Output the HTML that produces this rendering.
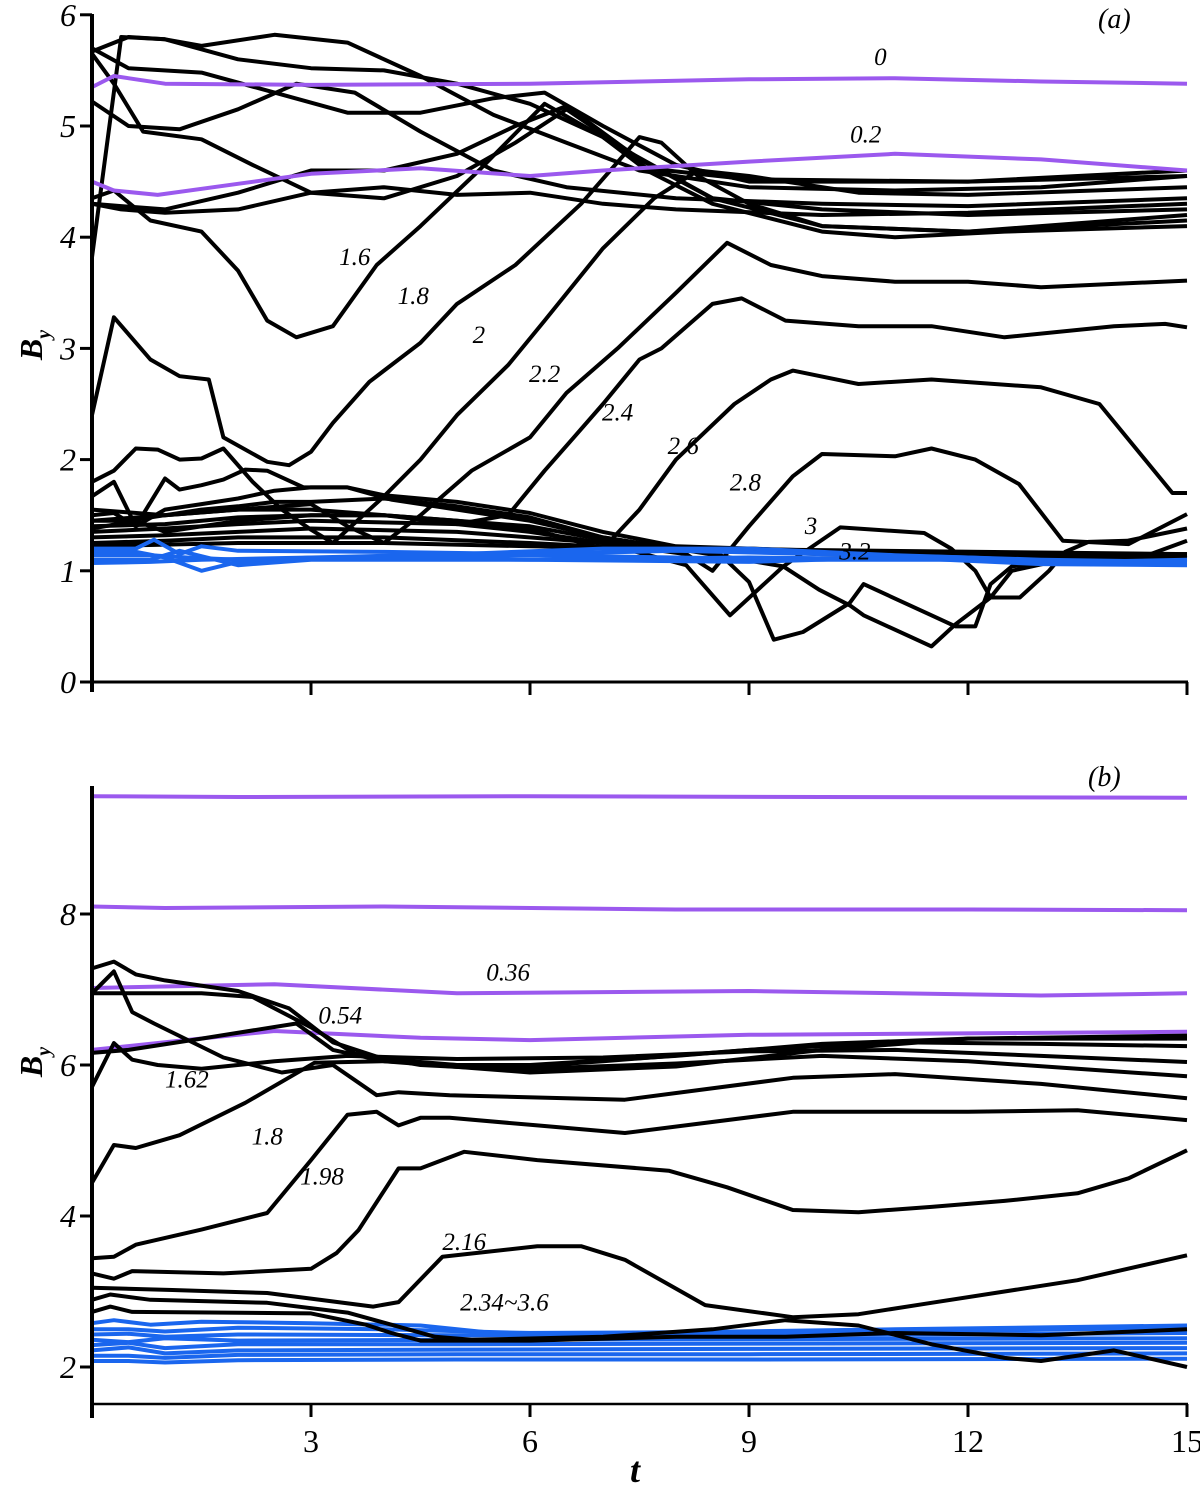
<!DOCTYPE html>
<html><head><meta charset="utf-8">
<style>
html,body{margin:0;padding:0;background:#fff;}
svg{display:block;}
text{font-family:"Liberation Serif","DejaVu Serif",serif;font-style:italic;}
</style></head>
<body>
<svg id="chart" width="1200" height="1486" viewBox="0 0 1200 1486" xmlns="http://www.w3.org/2000/svg">
<g id="panelA"></g>
<g id="panelB"></g>
</svg>
<script>
// ---------- Panel (a) data: [t, By] pairs ----------
const aPurple0 = [[0,5.35],[0.3,5.45],[1,5.38],[3,5.37],[6,5.38],[9,5.42],[11,5.43],[13,5.4],[15,5.38]];
const aPurple02 = [[0,4.5],[0.3,4.42],[0.9,4.38],[2,4.48],[3,4.57],[4.5,4.62],[6,4.55],[7,4.6],[9,4.68],[11,4.75],[13,4.7],[15,4.6]];
const aTop1 = [[0,5.67],[0.5,5.8],[1,5.78],[1.5,5.72],[2.5,5.82],[3.5,5.75],[4.5,5.45],[5.5,5.1],[6.5,4.85],[7.5,4.6],[9,4.45],[11,4.42],[13,4.45],[15,4.55]];
const aTop2 = [[0,5.7],[0.5,5.52],[1.5,5.48],[2.5,5.3],[3.5,5.12],[4.5,5.12],[5.5,5.25],[6.2,5.3],[7,5.0],[8,4.65],[9,4.5],[12,4.5],[15,4.6]];
const aTop3 = [[0,5.22],[0.5,5.0],[1.2,4.97],[2,5.15],[2.8,5.38],[3.6,5.3],[4.5,4.95],[5.5,4.6],[6.5,4.45],[8,4.35],[10,4.3],[12,4.28],[15,4.35]];
const aTop4 = [[0,3.82],[0.4,5.8],[1,5.78],[2,5.6],[3,5.52],[4,5.5],[5,5.38],[6,5.2],[7,4.9],[7.6,4.62],[9,4.52],[12,4.5],[15,4.55]];
const aTop5 = [[0,5.65],[0.3,5.38],[0.7,4.95],[1.5,4.88],[2.2,4.65],[3,4.4],[4,4.35],[5,4.55],[5.8,4.85],[6.5,5.15],[7.4,4.75],[8.5,4.35],[10,4.25],[12,4.2],[15,4.25]];
const aTop6 = [[0,4.3],[0.4,4.28],[1,4.25],[2,4.4],[3,4.6],[4,4.6],[5,4.75],[5.8,5.0],[6.5,5.18],[7.5,4.7],[8.5,4.35],[10,4.1],[12,4.05],[15,4.15]];
const aTop7 = [[0,4.3],[0.4,4.25],[1,4.22],[2,4.25],[3,4.4],[4,4.45],[5,4.38],[6,4.4],[7,4.3],[8,4.25],[10,4.2],[12,4.22],[15,4.3]];
const aL16 = [[0,4.35],[0.3,4.42],[0.8,4.15],[1.5,4.05],[2,3.7],[2.4,3.25],[2.8,3.1],[3.3,3.2],[3.9,3.75],[4.5,4.1],[5.3,4.6],[6.2,5.2],[7,4.9],[7.6,4.6],[8.5,4.3],[10,4.05],[11,4.0],[12.5,4.05],[15,4.1]];
const aL18 = [[0,2.4],[0.3,3.28],[0.8,2.9],[1.2,2.75],[1.6,2.72],[1.8,2.2],[2.4,1.98],[2.7,1.95],[3.0,2.07],[3.3,2.33],[3.8,2.7],[4.5,3.05],[5,3.4],[5.8,3.75],[6.7,4.3],[7.5,4.9],[7.8,4.85],[8.3,4.55],[9,4.3],[10,4.1],[12,4.05],[15,4.2]];
const aL20 = [[0,1.8],[0.3,1.9],[0.6,2.1],[0.9,2.09],[1.2,2.0],[1.5,2.01],[1.8,2.1],[2.2,1.8],[2.6,1.55],[3,1.37],[3.3,1.25],[4,1.67],[4.5,2.0],[5,2.4],[5.7,2.85],[6.2,3.25],[7,3.9],[7.7,4.35],[8.3,4.6],[9,4.55],[10.5,4.4],[12,4.38],[15,4.45]];
const aL22 = [[0,1.55],[1,1.5],[2,1.55],[3,1.6],[3.5,1.4],[4,1.25],[4.5,1.5],[5.2,1.9],[6,2.2],[6.5,2.6],[7.2,3.0],[8,3.5],[8.7,3.95],[9.3,3.75],[10,3.65],[11,3.6],[12,3.6],[13,3.55],[15,3.61]];
const aL24 = [[0,1.45],[1,1.5],[2,1.55],[3,1.55],[4,1.5],[5,1.42],[5.7,1.5],[6.2,1.9],[6.6,2.2],[7,2.5],[7.5,2.9],[7.8,3.0],[8.5,3.4],[8.9,3.45],[9.5,3.25],[10.5,3.2],[11.5,3.2],[12.5,3.1],[14,3.2],[14.7,3.22],[15,3.19]];
const aL26 = [[0,1.4],[1,1.42],[2,1.48],[3,1.5],[4,1.5],[5,1.45],[6,1.38],[7,1.2],[7.5,1.55],[8,2.0],[8.8,2.5],[9.3,2.72],[9.6,2.8],[10.5,2.68],[11.5,2.72],[13,2.65],[13.8,2.5],[14.3,2.1],[14.8,1.7],[15,1.7]];
const aL28 = [[0,1.35],[1,1.38],[2,1.42],[3,1.45],[5,1.42],[6,1.35],[7,1.25],[8.14,1.15],[8.5,1.0],[9,1.4],[9.6,1.85],[10,2.05],[11,2.03],[11.5,2.1],[12.1,2.0],[12.7,1.78],[13.3,1.27],[14.2,1.24],[15,1.51]];
const aL30 = [[0,1.3],[1,1.32],[2,1.35],[3,1.38],[5,1.35],[7,1.25],[8.14,1.05],[8.74,0.6],[9.47,1.04],[10.25,1.39],[11.4,1.34],[11.77,1.2],[12.1,1.0],[12.31,0.76],[12.71,0.76],[13.11,1.0],[13.33,1.17],[13.65,1.26],[14.18,1.27],[15,1.38]];
const aL32 = [[0,1.25],[1,1.27],[2,1.3],[4,1.3],[6,1.25],[7.5,1.2],[8.57,1.17],[9.0,0.9],[9.34,0.38],[9.74,0.45],[10.38,0.71],[10.57,0.88],[11.5,0.6],[11.83,0.5],[12.1,0.5],[12.31,0.88],[12.6,1.04],[13,1.07],[15,1.14]];
const aL34 = [[0,1.22],[2,1.25],[4,1.25],[6,1.22],[8,1.2],[9.47,1.04],[9.96,0.83],[10.38,0.69],[10.57,0.6],[11.5,0.32],[11.83,0.52],[12.31,0.76],[12.6,1.0],[13.3,1.1],[14.5,1.15],[15,1.27]];
const aZig = [[0,1.67],[0.3,1.8],[0.6,1.4],[1.0,1.83],[1.2,1.73],[1.5,1.77],[1.8,1.82],[2.1,1.91],[2.4,1.9],[2.9,1.75],[3.5,1.75],[4.1,1.64],[5,1.55],[6,1.45],[7,1.3],[8,1.2],[9,1.2],[11,1.15],[13,1.1],[15,1.12]];
const aFlat1 = [[0,1.5],[0.3,1.52],[0.6,1.4],[1,1.55],[1.5,1.6],[2,1.65],[2.5,1.72],[3,1.75],[3.5,1.75],[4,1.68],[5,1.62],[6,1.52],[7,1.35],[8,1.22],[10,1.18],[12,1.15],[15,1.15]];
const aFlat2 = [[0,1.45],[0.5,1.45],[1,1.5],[1.5,1.55],[2,1.58],[2.5,1.62],[3,1.62],[4,1.65],[5,1.58],[6,1.48],[7,1.3],[8,1.2],[10,1.15],[15,1.12]];
const aFlat3 = [[0,1.38],[0.6,1.45],[1,1.35],[2,1.45],[3,1.5],[4,1.5],[5,1.45],[6,1.4],[7,1.28],[8,1.2],[15,1.15]];
const aBlue1 = [[0,1.2],[0.6,1.2],[0.85,1.28],[1.2,1.15],[1.5,1.22],[2,1.18],[4,1.17],[6,1.15],[8,1.18],[10,1.15],[12,1.12],[13.5,1.08],[15,1.1]];
const aBlue2 = [[0,1.17],[0.6,1.17],[1,1.12],[1.5,1.0],[2,1.08],[3,1.12],[5,1.15],[7,1.2],[9,1.2],[11,1.14],[13,1.1],[15,1.08]];
const aBlue3 = [[0,1.14],[0.8,1.14],[1.3,1.12],[2,1.1],[4,1.12],[6,1.14],[8,1.12],[10,1.1],[12,1.1],[14,1.06],[15,1.06]];
const aBlue4 = [[0,1.1],[0.8,1.1],[1.2,1.18],[2,1.05],[3,1.1],[6,1.1],[9,1.08],[11,1.12],[13,1.06],[15,1.05]];
const aBlue5 = [[0,1.07],[0.8,1.08],[1.5,1.1],[3,1.12],[6,1.1],[9,1.12],[12,1.1],[15,1.08]];

// ---------- Panel (b) data ----------
const bPurple1 = [[0,9.56],[2,9.55],[6,9.56],[10,9.55],[15,9.54]];
const bPurple2 = [[0,8.1],[1,8.08],[4,8.1],[8,8.06],[12,8.06],[15,8.05]];
const bPurple036 = [[0,7.02],[2.5,7.07],[5,6.95],[9,6.98],[13,6.92],[15,6.95]];
const bPurple054 = [[0,6.2],[1,6.3],[2.5,6.45],[4.5,6.36],[6,6.33],[9,6.4],[15,6.44]];
const bK1 = [[0,7.28],[0.3,7.37],[0.6,7.2],[1,7.12],[2,6.98],[2.7,6.75],[3.3,6.3],[4,6.08],[5,6.0],[6,6.0],[8,6.12],[10,6.28],[12,6.35],[15,6.35]];
const bK2 = [[0,6.95],[0.3,7.24],[0.55,6.7],[0.85,6.55],[1.8,6.1],[2.6,5.9],[3.3,6.0],[3.9,5.6],[4.2,5.64],[4.9,5.6],[7.3,5.54],[9.6,5.83],[11,5.88],[13,5.75],[15,5.56]];
const bK3 = [[0,6.95],[0.5,6.95],[1.5,6.95],[2.2,6.9],[3,6.5],[3.6,6.15],[4.5,6.0],[5.5,5.95],[7,6.05],[9,6.2],[11,6.3],[13,6.28],[15,6.25]];
const bK4 = [[0,5.71],[0.3,6.29],[0.55,6.07],[0.9,6.0],[1.5,5.95],[2.5,6.05],[3.5,6.12],[5,6.08],[7,6.1],[9,6.18],[11,6.2],[13,6.12],[15,6.04]];
const bK5 = [[0,6.16],[0.5,6.2],[1.5,6.35],[2.8,6.55],[3.3,6.2],[4,6.05],[6,5.95],[8,6.02],[10,6.12],[12,6.05],[13.5,5.95],[15,5.85]];
const bL162 = [[0,4.44],[0.3,4.94],[0.6,4.9],[1.2,5.07],[2.1,5.5],[3.05,6.03],[4,6.05],[6,5.9],[8,5.98],[10,6.2],[12,6.35],[15,6.39]];
const bL18 = [[0,3.44],[0.3,3.46],[0.6,3.62],[1.5,3.82],[2.4,4.04],[3.0,4.74],[3.5,5.34],[3.9,5.38],[4.2,5.2],[4.5,5.3],[4.9,5.3],[6.1,5.2],[7.3,5.1],[9.6,5.38],[12,5.38],[13.5,5.4],[15,5.27]];
const bL198 = [[0,3.24],[0.3,3.17],[0.55,3.27],[1.8,3.24],[3,3.3],[3.35,3.51],[3.65,3.81],[4.2,4.63],[4.5,4.63],[5.1,4.85],[6.1,4.74],[7.9,4.6],[8.7,4.38],[9.6,4.08],[10.5,4.05],[11.5,4.12],[12.5,4.2],[13.5,4.3],[14.2,4.5],[15,4.87]];
const bL216 = [[0,3.05],[1.1,3.02],[2.4,2.98],[3.85,2.8],[4.2,2.86],[4.8,3.46],[6.1,3.6],[6.7,3.6],[7.3,3.42],[8.4,2.82],[9.6,2.66],[10.5,2.7],[11.5,2.85],[12.5,3.0],[13.5,3.15],[15,3.48]];
const bLow1 = [[0,2.89],[0.25,2.96],[0.8,2.89],[2.4,2.85],[3.5,2.72],[4.7,2.4],[5.2,2.36],[7,2.4],[8.5,2.5],[9.5,2.62],[10.5,2.55],[11.5,2.3],[12.5,2.12],[13,2.08],[14,2.22],[15,2.0]];
const bLow2 = [[0,2.73],[0.25,2.8],[0.55,2.73],[3,2.71],[3.75,2.56],[4.1,2.45],[4.5,2.35],[6,2.35],[8,2.4],[9.5,2.4],[11,2.45],[13,2.42],[15,2.5]];
const bBlue1 = [[0,2.58],[0.3,2.62],[0.8,2.56],[1.5,2.6],[3,2.58],[4.5,2.55],[5.5,2.45],[8,2.46],[11,2.5],[15,2.55]];
const bBlue2 = [[0,2.5],[0.5,2.5],[1,2.47],[2,2.52],[4,2.5],[6,2.45],[9,2.45],[12,2.48],[15,2.52]];
const bBlue3 = [[0,2.43],[0.5,2.44],[1,2.4],[2,2.43],[5,2.42],[8,2.42],[12,2.43],[15,2.45]];
const bBlue4 = [[0,2.36],[0.5,2.33],[1,2.38],[2,2.35],[5,2.36],[9,2.37],[15,2.38]];
const bBlue5 = [[0,2.29],[0.5,2.32],[1,2.25],[2,2.3],[5,2.3],[9,2.31],[15,2.32]];
const bBlue6 = [[0,2.22],[0.5,2.26],[1,2.18],[2,2.22],[5,2.23],[9,2.24],[15,2.25]];
const bBlue7 = [[0,2.15],[0.5,2.15],[1,2.12],[2,2.16],[5,2.17],[9,2.17],[15,2.18]];
const bBlue8 = [[0,2.08],[0.5,2.08],[1,2.06],[2,2.09],[5,2.1],[9,2.1],[15,2.11]];

const xTicks = [3,6,9,12,15];
const aYTicks = [0,1,2,3,4,5,6];
const bYTicks = [2,4,6,8];
const aLabels = [["0",10.8,5.55],["0.2",10.6,4.85],["1.6",3.6,3.75],["1.8",4.4,3.4],["2",5.3,3.05],["2.2",6.2,2.7],["2.4",7.2,2.35],["2.6",8.1,2.05],["2.8",8.95,1.72],["3",9.85,1.33],["3.2",10.45,1.1]];
const bLabels = [["0.36",5.7,7.12],["0.54",3.4,6.55],["1.62",1.3,5.7],["1.8",2.4,4.95],["1.98",3.15,4.42],["2.16",5.1,3.55],["2.34~3.6",5.65,2.75]];

const NS = "http://www.w3.org/2000/svg";
function xs(t){ return 92 + t*73; }
function yA(v){ return 682 - v*111.2; }
function yB(v){ return 1367 - (v-2)*75.5; }

function mk(tag, attrs, parent){
  const el = document.createElementNS(NS, tag);
  for (const k in attrs) el.setAttribute(k, attrs[k]);
  parent.appendChild(el);
  return el;
}
function line(parent, pts, ys, color, w, name){
  const d = pts.map((p,i)=>(i?'L':'M')+xs(p[0]).toFixed(1)+' '+ys(p[1]).toFixed(1)).join(' ');
  const el = mk('path', {d:d, fill:'none', stroke:color, 'stroke-width':w, 'stroke-linejoin':'round'}, parent);
  
  
}
const PUR = '#9b59ee', BLU = '#1a66ee', BLK = '#000';
const LW = 4;

// ----- Panel A -----
const gA = document.getElementById('panelA');
const aBlack = [aTop1,aTop2,aTop3,aTop4,aTop5,aTop6,aTop7,aL16,aL18,aL20,aL22,aL24,aL26,aL28,aL30,aL32,aL34,aZig,aFlat1,aFlat2,aFlat3];
aBlack.forEach((s,i)=>line(gA, s, yA, BLK, LW, 'series-a-black-'+i));
[aBlue1,aBlue2,aBlue3,aBlue4,aBlue5].forEach((s,i)=>line(gA, s, yA, BLU, LW, 'series-a-blue-'+i));
line(gA, aPurple0, yA, PUR, LW, 'series-a-purple-0');
line(gA, aPurple02, yA, PUR, LW, 'series-a-purple-0.2');

// ----- Panel B -----
const gB = document.getElementById('panelB');
[bPurple1,bPurple2,bPurple036,bPurple054].forEach((s,i)=>line(gB, s, yB, PUR, LW, 'series-b-purple-'+i));
[bBlue1,bBlue2,bBlue3,bBlue4,bBlue5,bBlue6,bBlue7,bBlue8].forEach((s,i)=>line(gB, s, yB, BLU, LW, 'series-b-blue-'+i));
[bK1,bK2,bK3,bK4,bK5,bL162,bL18,bL198,bL216,bLow1,bLow2].forEach((s,i)=>line(gB, s, yB, BLK, LW, 'series-b-black-'+i));

// ----- Axes -----
function axes(g, ys, yTicks, top, bottomY, bottomEnd, withXLabels, prefix){
  const ya = mk('line',{x1:92,y1:top,x2:92,y2:bottomEnd,stroke:'#000','stroke-width':4},g);
  
  
  const xa = mk('line',{x1:92,y1:bottomY,x2:1188,y2:bottomY,stroke:'#000','stroke-width':withXLabels?2.5:3},g);
  
  
  xTicks.forEach(t=>{
    const tk = mk('line',{x1:xs(t),y1:bottomY,x2:xs(t),y2:bottomY+13,stroke:'#000','stroke-width':3},g);
    
    
    if (withXLabels){
      const tx = mk('text',{x:xs(t),y:bottomY+48,'text-anchor':'middle','font-size':32,style:'font-style:normal'},g);
      tx.textContent = String(t);
      
      
    }
  });
  yTicks.forEach(v=>{
    const tk = mk('line',{x1:80,y1:ys(v),x2:92,y2:ys(v),stroke:'#000','stroke-width':3},g);
    
    
    const tx = mk('text',{x:76,y:ys(v)+11,'text-anchor':'end','font-size':32},g);
    tx.textContent = String(v);
    
    
  });
}
axes(gA, yA, aYTicks, 14, 682, 692, false, 'panel-a');
axes(gB, yB, bYTicks, 786, 1404, 1418, true, 'panel-b');

// ----- Curve labels -----
aLabels.forEach(l=>{
  const t = mk('text',{x:xs(l[1]),y:yA(l[2]),'text-anchor':'middle','font-size':25},gA);
  t.textContent = l[0];
  
  
});
bLabels.forEach(l=>{
  const t = mk('text',{x:xs(l[1]),y:yB(l[2]),'text-anchor':'middle','font-size':25},gB);
  t.textContent = l[0];
  
  
});

// ----- Titles -----
function txt(g, s, x, y, size, name, extra){
  const t = mk('text', Object.assign({x:x,y:y,'font-size':size}, extra||{}), g);
  t.textContent = s;
  
  
  return t;
}
txt(gA, '(a)', 1098, 28, 28, 'panel-a-title');
txt(gB, '(b)', 1088, 786, 28, 'panel-b-title');
txt(gB, 't', 630, 1482, 36, 'x-axis-title', {'font-weight':'bold'});
function ylab(g, cy, name){
  const t = mk('text', {x:0,y:0,'font-size':32,'font-weight':'bold',transform:'translate(42,'+cy+') rotate(-90)','text-anchor':'middle'}, g);
  
  
  const a = document.createElementNS(NS,'tspan'); a.textContent='B'; t.appendChild(a);
  const b = document.createElementNS(NS,'tspan'); b.textContent='y'; b.setAttribute('font-size','20'); b.setAttribute('dy','8'); t.appendChild(b);
}
ylab(gA, 345, 'panel-a-y-axis-title');
ylab(gB, 1062, 'panel-b-y-axis-title');
</script>
</body></html>
